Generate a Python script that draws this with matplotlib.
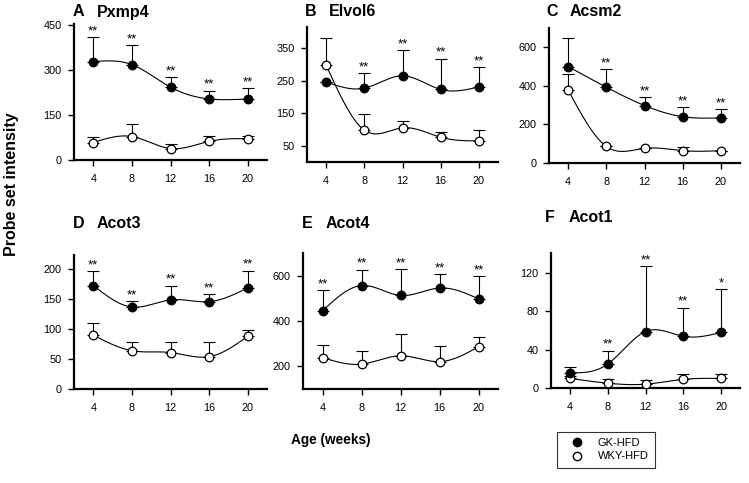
import numpy as np
import matplotlib
matplotlib.use("Agg")
import matplotlib.pyplot as plt
from matplotlib.lines import Line2D

plt.rcParams['font.family'] = ['Liberation Sans', 'DejaVu Sans']

ages = [4, 8, 12, 16, 20]

a_gk = [327, 317, 242, 203, 203]
a_gk_err = [82, 65, 34, 27, 35]
a_wky = [58, 78, 38, 62, 71]
a_wky_err = [18, 41, 16, 19, 8]
a_stars = ['**', '**', '**', '**', '**']

b_gk = [246, 227, 265, 223, 231]
b_gk_err = [0, 46, 78, 95, 60]
b_wky = [298, 98, 105, 76, 65]
b_wky_err = [83, 49, 21, 16, 32]
b_stars = ['', '**', '**', '**', '**']

c_gk = [500, 393, 298, 240, 234]
c_gk_err = [147, 93, 42, 50, 45]
c_wky = [379, 86, 76, 64, 64]
c_wky_err = [80, 0, 0, 18, 0]
c_stars = ['', '**', '**', '**', '**']

d_gk = [173, 137, 149, 146, 169]
d_gk_err = [24, 10, 24, 12, 29]
d_wky = [90, 64, 61, 54, 88]
d_wky_err = [21, 14, 17, 25, 11]
d_stars = ['**', '**', '**', '**', '**']

e_gk = [446, 558, 514, 547, 499]
e_gk_err = [92, 70, 117, 62, 101]
e_wky = [239, 210, 247, 221, 287]
e_wky_err = [54, 58, 95, 71, 43]
e_stars = ['**', '**', '**', '**', '**']

f_gk = [16, 25, 59, 54, 58]
f_gk_err = [6, 14, 68, 30, 45]
f_wky = [10, 5, 4, 9, 10]
f_wky_err = [3, 4, 4, 6, 5]
f_stars = ['', '**', '**', '**', '*']

panels = [
    ('A', 'Pxmp4', a_gk, a_gk_err, a_wky, a_wky_err, a_stars, (0, 452), [0, 150, 300, 450]),
    ('B', 'Elvol6', b_gk, b_gk_err, b_wky, b_wky_err, b_stars, (0, 415), [50, 150, 250, 350]),
    ('C', 'Acsm2', c_gk, c_gk_err, c_wky, c_wky_err, c_stars, (0, 700), [0, 200, 400, 600]),
    ('D', 'Acot3', d_gk, d_gk_err, d_wky, d_wky_err, d_stars, (0, 224), [0, 50, 100, 150, 200]),
    ('E', 'Acot4', e_gk, e_gk_err, e_wky, e_wky_err, e_stars, (100, 702), [200, 400, 600]),
    ('F', 'Acot1', f_gk, f_gk_err, f_wky, f_wky_err, f_stars, (0, 141), [0, 40, 80, 120]),
]

# axes boxes in pixels: left, right, bottom, top (from top of image)
boxes = [
    (74, 267, 160, 24),
    (307, 498, 162, 27),
    (549, 740, 163, 28),
    (74, 267, 389, 255),
    (303, 498, 389, 253),
    (551, 740, 388, 253),
]
# title positions in pixels: x of letter, y center
title_pos = [(73, 12), (305, 12), (546, 12), (73, 223), (302, 223), (545, 217)]

W, H = 749, 483


def natural_spline(x, y, n=200):
    x = np.asarray(x, float)
    y = np.asarray(y, float)
    m = len(x)
    h = np.diff(x)
    A = np.zeros((m, m))
    r = np.zeros(m)
    A[0, 0] = 1
    A[-1, -1] = 1
    for i in range(1, m - 1):
        A[i, i - 1] = h[i - 1]
        A[i, i] = 2 * (h[i - 1] + h[i])
        A[i, i + 1] = h[i]
        r[i] = 6 * ((y[i + 1] - y[i]) / h[i] - (y[i] - y[i - 1]) / h[i - 1])
    M = np.linalg.solve(A, r)
    xs = np.linspace(x[0], x[-1], n)
    ys = np.empty_like(xs)
    for k, xv in enumerate(xs):
        i = min(np.searchsorted(x, xv, side='right') - 1, m - 2)
        t1 = x[i + 1] - xv
        t0 = xv - x[i]
        ys[k] = (M[i] * t1 ** 3 / (6 * h[i]) + M[i + 1] * t0 ** 3 / (6 * h[i])
                 + (y[i] / h[i] - M[i] * h[i] / 6) * t1
                 + (y[i + 1] / h[i] - M[i + 1] * h[i] / 6) * t0)
    return xs, ys


fig = plt.figure(figsize=(W / 100, H / 100), dpi=100)

for (lab, gene, gk, gke, wk, wke, stars, ylim, yticks), (l, r, b, t), (tx, ty) in zip(panels, boxes, title_pos):
    ax = fig.add_axes([l / W, 1 - b / H, (r - l) / W, (b - t) / H])
    for mean, err, face in [(wk, wke, 'white'), (gk, gke, 'black')]:
        xs, ys = natural_spline(ages, mean)
        ax.plot(xs, ys, color='black', lw=0.8, zorder=2)
        ax.errorbar(ages, mean, yerr=[np.zeros(len(err)), err], fmt='none',
                    ecolor='black', elinewidth=0.8, capsize=4, capthick=0.8, zorder=1)
        ax.plot(ages, mean, 'o', ms=6.2, mfc=face, mec='black', mew=0.9, zorder=3)
    for xv, g, ge, w, we, s in zip(ages, gk, gke, wk, wke, stars):
        if s:
            top = max(g + ge, w + we)
            ax.annotate(s, (xv, top), xytext=(0, 0), textcoords='offset points',
                        ha='center', va='bottom', fontsize=9.5)
    ax.set_xlim(2, 22)
    ax.set_ylim(*ylim)
    ax.set_xticks(ages)
    ax.set_yticks(yticks)
    ax.tick_params(labelsize=7.8, length=4, width=1.0, direction='out', pad=5)
    ax.tick_params(axis='x', pad=6)
    for sp in ['top', 'right']:
        ax.spines[sp].set_visible(False)
    for sp in ['left', 'bottom']:
        ax.spines[sp].set_linewidth(1.6)
    fig.text(tx / W, 1 - ty / H, lab, fontsize=11.5, fontweight='bold',
             ha='left', va='center')
    fig.text((tx + 24) / W, 1 - ty / H, gene, fontsize=11.5, fontweight='bold',
             ha='left', va='center')

fig.text(12 / W, 1 - 184 / H, 'Probe set intensity', rotation=90,
         fontsize=11.5, fontweight='bold', ha='center', va='center')
fig.text(331 / W, 1 - 440 / H, 'Age (weeks)', fontsize=9.8, fontweight='bold',
         ha='center', va='center')

handles = [
    Line2D([], [], ls='none', marker='o', ms=6, mfc='black', mec='black', label='GK-HFD'),
    Line2D([], [], ls='none', marker='o', ms=6, mfc='white', mec='black', label='WKY-HFD'),
]
leg = fig.legend(handles=handles, loc='upper left',
                 bbox_to_anchor=(557 / W, 1 - 432 / H), fontsize=8,
                 frameon=True, fancybox=False, edgecolor='black',
                 handletextpad=0.6, borderpad=0.55, labelspacing=0.3,
                 handlelength=2.5, borderaxespad=0)
leg.get_frame().set_linewidth(0.8)

fig.savefig('out.png', dpi=100)
